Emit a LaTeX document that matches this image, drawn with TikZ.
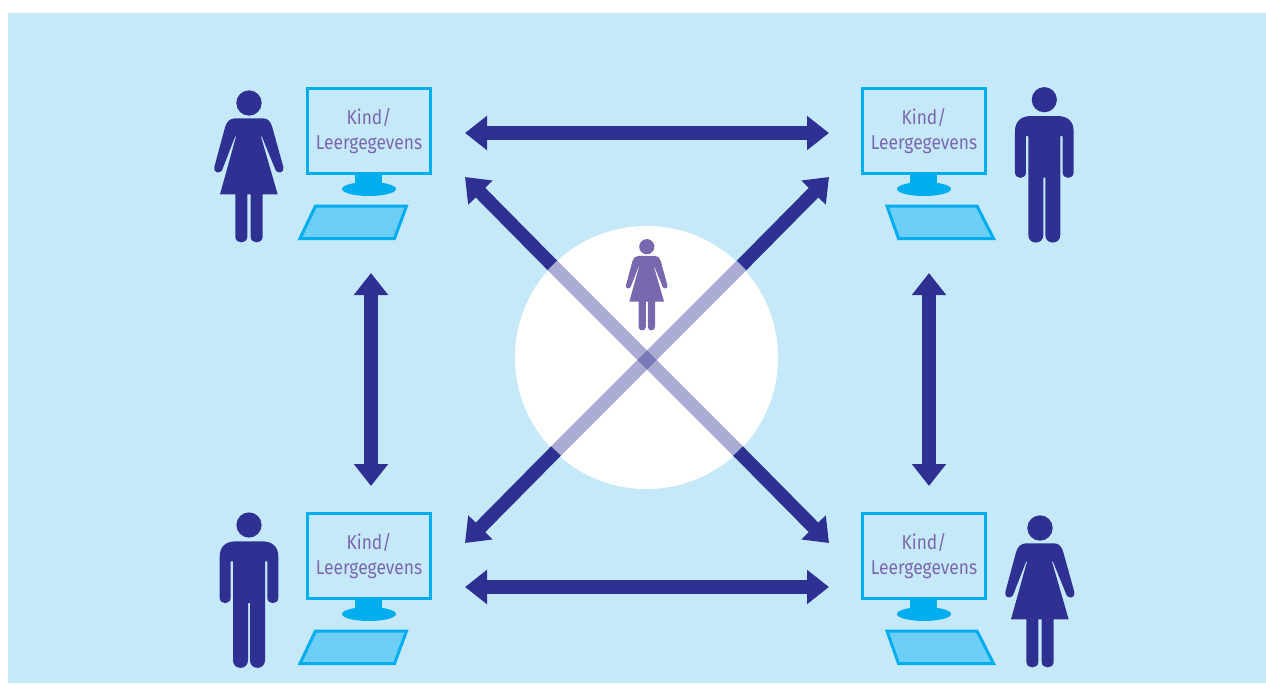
\documentclass[tikz,border=0pt]{standalone}
\usepackage{fontspec}
\setsansfont[FakeStretch=0.87]{Fira Sans}
\usetikzlibrary{arrows.meta}
\definecolor{bgblue}{HTML}{C6E9FA}
\definecolor{navy}{HTML}{2E3192}
\definecolor{cyanb}{HTML}{00AEEF}
\definecolor{keyb}{HTML}{6DCFF6}
\definecolor{violet}{HTML}{7A68AE}
\tikzset{
  link/.style={draw=navy,line width=13.5pt,{Triangle[length=22pt,width=33pt]}-{Triangle[length=22pt,width=33pt]}},
  halflink/.style={draw=navy,line width=13.5pt,-{Triangle[length=22pt,width=33pt]}},
  glass/.style={draw=navy,line width=13.5pt,draw opacity=.4},
  screenbox/.style={draw=cyanb,line width=3pt,minimum width=123pt,minimum height=85pt,inner sep=0pt,
    font=\sffamily\fontsize{20}{24.5}\selectfont,text=violet,align=center},
  keybox/.style={draw=cyanb,fill=keyb,line width=3pt,line join=miter}
}
\newcommand{\WomanFig}[4]{%
  \begin{scope}[shift={(#1,#2)},x=#3pt/3,y=-#3pt/3]
    \fill[#4] (0,0) circle[radius=38pt*#3/3];
    \fill[#4] (-42,46) -- (43,46) .. controls (58,46) and (66,58) .. (70,73) -- (103,192)
      .. controls (108,210) and (85,213) .. (80,202) -- (38,99) -- (36,101) -- (86,274) -- (41,274) -- (41,401)
      .. controls (41,424) and (5,424) .. (5,401) -- (5,274) -- (-5,274) -- (-5,401)
      .. controls (-5,424) and (-41,424) .. (-41,401) -- (-41,274) -- (-87,274) -- (-39,101) -- (-41,99)
      -- (-81,202) .. controls (-86,213) and (-109,210) .. (-104,192) -- (-72,73)
      .. controls (-68,58) and (-58,46) .. (-42,46) -- cycle;
  \end{scope}}
\newcommand{\ManFig}[3]{%
  \begin{scope}[shift={(#1,#2)},x=1pt/3,y=-1pt/3]
    \fill[#3] (0,0) circle[radius=12.6pt];
    \fill[#3] (-40,49) -- (40,49) .. controls (70,49) and (88,65) .. (88,95) -- (88,218)
      .. controls (88,240) and (55,240) .. (55,218) -- (55,109) -- (48,109) -- (48,406)
      .. controls (48,436) and (3,436) .. (3,406) -- (3,234) -- (-3,234) -- (-3,406)
      .. controls (-3,436) and (-48,436) .. (-48,406) -- (-48,109) -- (-55,109) -- (-55,218)
      .. controls (-55,240) and (-88,240) .. (-88,218) -- (-88,95)
      .. controls (-88,65) and (-70,49) .. (-40,49) -- cycle;
  \end{scope}}
\newcommand{\Station}[3]{% x of monitor left, y of monitor top, name
  \node[screenbox,anchor=north west] (#3) at (#1,#2) {Kind/\\Leergegevens};
  \fill[cyanb] (#1+49,#2+87) rectangle (#1+76,#2+101);
  \fill[cyanb] (#1+63,#2+102) ellipse[x radius=27pt,y radius=7pt];
}
\begin{document}
\begin{tikzpicture}[x=1pt,y=-1pt]
  \useasboundingbox (0,0) rectangle (1266,683);
  \fill[bgblue] (8,13) rectangle (1266,683);

  \coordinate (tl) at (465,177);
  \coordinate (tr) at (829,177);
  \coordinate (bl) at (465,543);
  \coordinate (br) at (829,543);
  \coordinate (ctl) at (552.3,265.3);
  \coordinate (ctr) at (741.7,265.3);
  \coordinate (cbl) at (556,451);
  \coordinate (cbr) at (738,451);

  \fill[white] (646.5,357.5) circle[radius=131.5pt];
  \draw[glass] (ctl) -- (cbr);
  \draw[glass] (ctr) -- (cbl);
  \draw[halflink] (ctl) -- (tl);
  \draw[halflink] (ctr) -- (tr);
  \draw[halflink] (cbl) -- (bl);
  \draw[halflink] (cbr) -- (br);

  \coordinate (ht1) at (465,133); \coordinate (ht2) at (829,133);
  \coordinate (hb1) at (465,587); \coordinate (hb2) at (829,587);
  \coordinate (vl1) at (371,273); \coordinate (vl2) at (371,486);
  \coordinate (vr1) at (929,273); \coordinate (vr2) at (929,486);
  \draw[link] (ht1) -- (ht2);
  \draw[link] (hb1) -- (hb2);
  \draw[link] (vl1) -- (vl2);
  \draw[link] (vr1) -- (vr2);

  \Station{306}{87}{mtl}
  \Station{861}{87}{mtr}
  \Station{306}{512}{mbl}
  \Station{861}{512}{mbr}

  \draw[keybox] (315.5,206) -- (406.5,206) -- (394.5,238.5) -- (300,238.5) -- cycle;
  \draw[keybox] (315.5,631) -- (406.5,631) -- (394.5,663.5) -- (300,663.5) -- cycle;
  \draw[keybox] (887,206) -- (977,206) -- (993.5,238.5) -- (898.5,238.5) -- cycle;
  \draw[keybox] (887,631) -- (977,631) -- (993.5,663.5) -- (898.5,663.5) -- cycle;

  \WomanFig{249}{103}{1}{navy}
  \WomanFig{1040}{528}{1}{navy}
  \WomanFig{646.8}{246.7}{0.6}{violet}
  \ManFig{1044.3}{99.7}{navy}
  \ManFig{249}{525}{navy}
\end{tikzpicture}
\end{document}
